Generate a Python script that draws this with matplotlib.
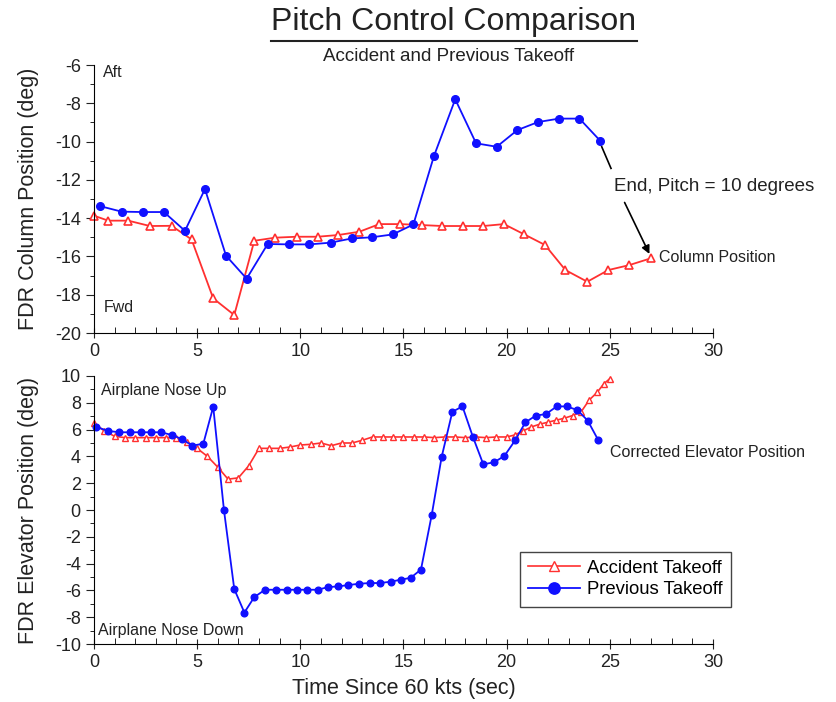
import matplotlib.pyplot as plt
from matplotlib.lines import Line2D
from matplotlib.ticker import MultipleLocator

plt.rcParams['font.family'] = ['Liberation Sans', 'DejaVu Sans']
plt.rcParams['axes.unicode_minus'] = False

# Column position (top panel)
col_prev_t = [0.29, 1.34, 2.36, 3.39, 4.41, 5.38, 6.4, 7.4, 8.42, 9.47, 10.44, 11.47, 12.49,
              13.46, 14.48, 15.48, 16.48, 17.51, 18.52, 19.52, 20.52, 21.52, 22.54, 23.53, 24.53]
col_prev = [-13.37, -13.66, -13.68, -13.68, -14.66, -12.48, -15.96, -17.16, -15.35, -15.37,
            -15.37, -15.28, -15.06, -15.0, -14.85, -14.33, -10.75, -7.79, -10.09, -10.27,
            -9.4, -8.98, -8.8, -8.8, -9.95]
col_acc_t = [0.0, 0.69, 1.66, 2.71, 3.76, 4.73, 5.78, 6.8, 7.77, 8.77, 9.82, 10.84, 11.84, 12.86,
             13.83, 14.85, 15.88, 16.88, 17.87, 18.87, 19.87, 20.86, 21.86, 22.85, 23.91, 24.93,
             25.95, 26.98]
col_acc = [-13.87, -14.13, -14.13, -14.41, -14.4, -15.11, -18.19, -19.06, -15.18, -15.02, -14.97,
           -14.97, -14.88, -14.71, -14.31, -14.31, -14.36, -14.41, -14.41, -14.41, -14.31, -14.85,
           -15.4, -16.71, -17.32, -16.71, -16.45, -16.1]

# Elevator position (bottom panel)
elev_prev_t = [0.1, 0.69, 1.23, 1.75, 2.26, 2.76, 3.25, 3.77, 4.25, 4.77, 5.3, 5.78, 6.3, 6.8,
               7.29, 7.77, 8.29, 8.82, 9.34, 9.82, 10.34, 10.84, 11.36, 11.84, 12.33, 12.86,
               13.38, 13.86, 14.38, 14.87, 15.35, 15.85, 16.37, 16.85, 17.37, 17.86, 18.36,
               18.87, 19.39, 19.89, 20.41, 20.91, 21.41, 21.91, 22.43, 22.91, 23.43, 23.93, 24.45]
elev_prev = [6.2, 5.9, 5.8, 5.8, 5.8, 5.8, 5.8, 5.6, 5.3, 4.8, 4.95, 7.7, 0.0, -5.9, -7.65,
             -6.5, -5.95, -5.95, -5.95, -5.95, -5.95, -5.95, -5.75, -5.7, -5.6, -5.5, -5.45,
             -5.45, -5.35, -5.2, -5.06, -4.44, -0.37, 3.95, 7.33, 7.73, 5.48, 3.41, 3.56, 4.03,
             5.19, 6.54, 7.04, 7.16, 7.73, 7.73, 7.46, 6.67, 5.19]
elev_acc_t = [0.0, 0.5, 1.0, 1.5, 2.0, 2.5, 3.0, 3.5, 4.0, 4.5, 5.0, 5.5, 6.0, 6.5, 7.0, 7.5,
              8.0, 8.5, 9.0, 9.5, 10.0, 10.5, 11.0, 11.5, 12.0, 12.5, 13.0, 13.5, 14.0, 14.5,
              15.0, 15.5, 16.0, 16.5, 17.0, 17.5, 18.0, 18.5, 19.0, 19.5, 20.0, 20.4, 20.8,
              21.2, 21.6, 22.0, 22.4, 22.8, 23.2, 23.6, 24.0, 24.4, 24.7, 25.0]
elev_acc = [6.5, 5.9, 5.5, 5.4, 5.4, 5.4, 5.4, 5.4, 5.35, 5.1, 4.6, 4.0, 3.2, 2.3, 2.4, 3.3,
            4.6, 4.6, 4.6, 4.7, 4.85, 4.9, 5.0, 4.8, 5.0, 5.0, 5.2, 5.45, 5.45, 5.45, 5.45,
            5.45, 5.45, 5.4, 5.45, 5.45, 5.4, 5.45, 5.4, 5.45, 5.45, 5.6, 5.9, 6.2, 6.4, 6.55,
            6.7, 6.85, 7.05, 7.3, 8.2, 8.8, 9.4, 9.8]

RED = '#ff3030'
BLUE = '#1010ff'
TXT = '#222222'

fig = plt.figure(figsize=(8.36, 7.02), dpi=100)
ax1 = fig.add_axes([0.1124, 0.5256, 0.7404, 0.3818])
ax2 = fig.add_axes([0.1124, 0.0826, 0.7404, 0.3818])


def style(ax, ylo, yhi):
    ax.set_xlim(0, 30)
    ax.set_ylim(ylo, yhi)
    ax.spines['top'].set_visible(False)
    ax.spines['right'].set_visible(False)
    ax.xaxis.set_major_locator(MultipleLocator(5))
    ax.xaxis.set_minor_locator(MultipleLocator(1))
    ax.yaxis.set_major_locator(MultipleLocator(2))
    ax.yaxis.set_minor_locator(MultipleLocator(1))
    ax.tick_params(axis='x', which='major', direction='inout', length=7, labelsize=13, colors=TXT)
    ax.tick_params(axis='x', which='minor', direction='in', length=4)
    ax.tick_params(axis='y', which='major', direction='out', length=6, labelsize=13, colors=TXT)
    ax.tick_params(axis='y', which='minor', direction='out', length=3)
    ax.yaxis.set_label_coords(-0.088, 0.5)


# top panel
ax1.plot(col_acc_t, col_acc, color=RED, lw=1.3, marker='^', ms=5.5, mfc='white', mec=RED, mew=1.2,
         clip_on=False)
ax1.plot(col_prev_t, col_prev, color=BLUE, lw=1.3, marker='o', ms=5.5, mfc=BLUE, mec=BLUE,
         clip_on=False)
style(ax1, -20, -6)
ax1.set_ylabel('FDR Column Position (deg)', fontsize=15.5, color=TXT)
ax1.text(0.45, -6.4, 'Aft', fontsize=11.5, color=TXT, va='center')
ax1.text(0.45, -18.65, 'Fwd', fontsize=11.5, color=TXT, va='center')
ax1.text(27.4, -16.05, 'Column Position', fontsize=11.5, color=TXT, va='center')
ax1.text(25.2, -12.36, 'End, Pitch = 10 degrees', fontsize=13.5, color=TXT, va='center',
         clip_on=False)
ax1.plot([24.61, 25.06], [-10.27, -11.4], color='black', lw=1.2, clip_on=False)
ax1.annotate('', xy=(26.98, -16.0), xytext=(25.66, -13.05),
             arrowprops=dict(arrowstyle='-|>', color='black', lw=1.2, mutation_scale=12))

# bottom panel
ax2.plot(elev_acc_t, elev_acc, color=RED, lw=1.2, marker='^', ms=4.5, mfc='white', mec=RED,
         mew=1.0, clip_on=False, label='Accident Takeoff')
ax2.plot(elev_prev_t, elev_prev, color=BLUE, lw=1.3, marker='o', ms=4.8, mfc=BLUE, mec=BLUE,
         clip_on=False, label='Previous Takeoff')
style(ax2, -10, 10)
ax2.set_ylabel('FDR Elevator Position (deg)', fontsize=15.5, color=TXT)
ax2.set_xlabel('Time Since 60 kts (sec)', fontsize=15.5, color=TXT, labelpad=5)
ax2.text(0.35, 8.9, 'Airplane Nose Up', fontsize=11.5, color=TXT, va='center')
ax2.text(0.2, -9.0, 'Airplane Nose Down', fontsize=11.5, color=TXT, va='center')
ax2.text(25.0, 4.3, 'Corrected Elevator Position', fontsize=11.5, color=TXT, va='center',
         clip_on=False)
leg = ax2.legend(loc='upper left', bbox_to_anchor=(0.688, 0.345), fontsize=13.3,
                 fancybox=False, edgecolor='#444444', framealpha=1, handlelength=2.8,
                 markerscale=1.7, borderpad=0.45, labelspacing=0.25, handletextpad=0.4,
                 borderaxespad=0)
leg.get_frame().set_linewidth(1.0)

# title with underline
title = fig.text(0.543, 0.969, 'Pitch Control Comparison', fontsize=23, ha='center',
                 va='center', color=TXT)
fig.text(0.536, 0.919, 'Accident and Previous Takeoff', fontsize=13.5, ha='center',
         va='center', color=TXT)
fig.canvas.draw()
bb = title.get_window_extent().transformed(fig.transFigure.inverted())
fig.add_artist(Line2D([bb.x0, bb.x1], [1 - 41 / 702] * 2, transform=fig.transFigure,
                      color=TXT, lw=1.5))

fig.savefig('out.png', dpi=100)
